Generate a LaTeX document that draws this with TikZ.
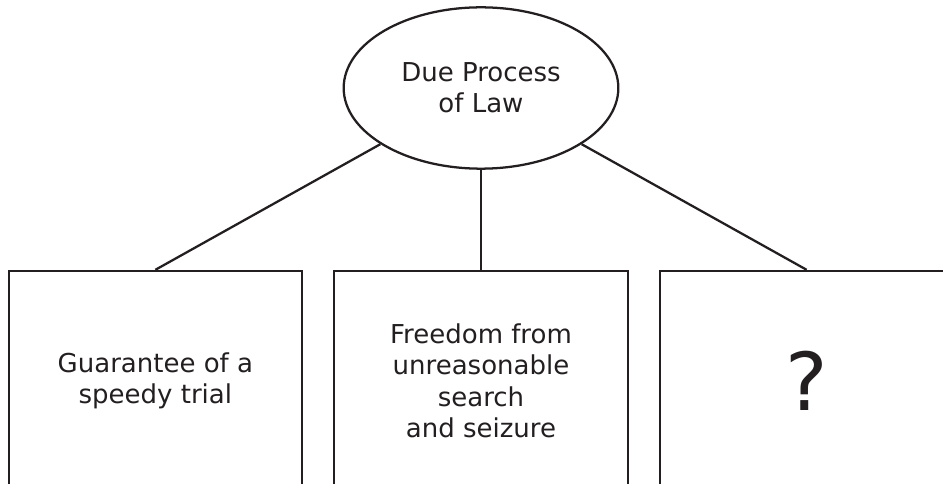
\documentclass[tikz,border=0pt]{standalone}
\usepackage{fontspec}
\setmainfont{DejaVu Sans}
\usetikzlibrary{positioning,shapes.geometric}
\definecolor{ink}{HTML}{231F20}
\tikzset{
	node distance=2cm,
	topic/.style = {ellipse, draw, minimum width=206pt, minimum height=121pt, align=center, font=\fontsize{19.5}{23.5}\selectfont},
	box/.style = {rectangle, draw, minimum width=220pt, minimum height=165pt, align=center, font=\fontsize{19.5}{23.5}\selectfont}
}
\begin{document}
\begin{tikzpicture}[x=0.75pt,y=-0.75pt,color=ink,line width=1.7pt]
	\clip (0,0) rectangle (943,484);
	\node[topic] (law) at (481,88) {Due Process\\of Law};
	\node[box] (search) [below=75pt of law] {Freedom from\\unreasonable\\search\\and seizure};
	\node[box] (trial) [left=22.5pt of search] {Guarantee of a\\speedy trial};
	\node[box] (unknown) [right=22.5pt of search, font=\fontsize{60}{70}\selectfont] {?};
	\draw (law) -- (trial.north);
	\draw (law) -- (search);
	\draw (law) -- (unknown.north);
\end{tikzpicture}
\end{document}
